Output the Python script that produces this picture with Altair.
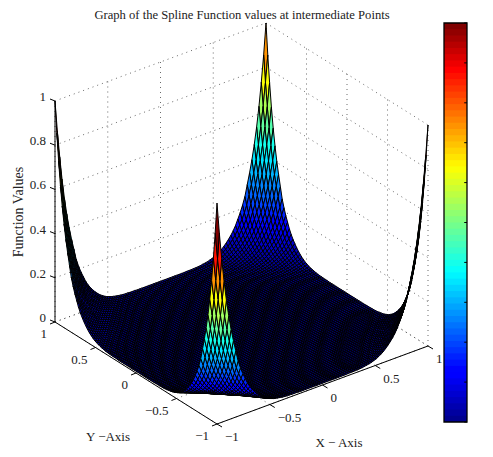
import altair as alt
import numpy as np

TITLE = "Graph of the Spline Function values at intermediate Points"
FONT = "Liberation Serif"
# Surface height along an edge, from a corner (index 0) to mid-edge (index 45)
EDGE_PROFILE = [1.0, 0.86, 0.74, 0.635, 0.545, 0.47, 0.405, 0.35, 0.30, 0.25, 0.215, 0.185, 0.16, 0.135,
                0.115, 0.098, 0.084, 0.071, 0.06, 0.05, 0.042, 0.035, 0.029, 0.025, 0.021, 0.018, 0.016,
                0.014, 0.012, 0.011, 0.010, 0.010, 0.009, 0.009, 0.009, 0.008, 0.008, 0.008, 0.008, 0.008,
                0.008, 0.008, 0.008, 0.008, 0.008, 0.008]
XY_TICKS = [-1, -0.5, 0, 0.5, 1]
XY_LABELS = ["\u22121", "\u22120.5", "0", "0.5", "1"]
Z_TICKS = [0, 0.2, 0.4, 0.6, 0.8, 1]
Z_LABELS = ["0", "0.2", "0.4", "0.6", "0.8", "1"]
CB_TICKS = [0, 0.1, 0.2, 0.3, 0.4, 0.5, 0.6, 0.7, 0.8, 0.9, 1]
JET_POS = [0, 0.11, 0.125, 0.375, 0.64, 0.89, 1]
JET_R = [0, 0, 0, 0, 1, 1, 0.5]
JET_G = [0, 0, 0, 1, 1, 0, 0]
JET_B = [0.5625, 1, 1, 1, 0, 0, 0]

levels = np.linspace(0, 1, 64)
jet = ["#%02x%02x%02x" % tuple(int(round(255 * np.interp(l, JET_POS, c))) for c in (JET_R, JET_G, JET_B)) for l in levels]

def proj(x, y, z):
    s, t = (x + 1) / 2, (y + 1) / 2
    return [217 - 8 + 211 * s - 162 * t, 424 - 8 - 78 * s - 102 * t - 221 * z]

profile = np.array(EDGE_PROFILE + EDGE_PROFILE[-2::-1])
axis_vals = np.linspace(-1, 1, len(profile))
n = len(profile)

cells = []
for i in range(n - 2, -1, -1):
    for j in range(n - 2, -1, -1):
        corners = [(i, j), (i + 1, j), (i + 1, j + 1), (i, j + 1), (i, j)]
        ring = [proj(axis_vals[a], axis_vals[b], profile[a] * profile[b]) for a, b in corners]
        cells.append({"type": "Feature",
                      "geometry": {"type": "Polygon", "coordinates": [[[round(float(p[0]), 2), round(float(p[1]), 2)] for p in ring]]},
                      "properties": {"z": round(float(profile[i] * profile[j]), 4)}})

def line(pts):
    return {"type": "Feature", "properties": {}, "geometry": {"type": "LineString", "coordinates": pts}}

grid = []
for v in XY_TICKS:
    grid += [line([proj(v, 1, 0), proj(v, 1, 1)]), line([proj(1, v, 0), proj(1, v, 1)]),
             line([proj(v, -1, 0), proj(v, 1, 0)]), line([proj(-1, v, 0), proj(1, v, 0)])]
for v in Z_TICKS:
    grid += [line([proj(-1, 1, v), proj(1, 1, v)]), line([proj(1, 1, v), proj(1, -1, v)])]

def moved(p, dx, dy):
    return [p[0] + dx, p[1] + dy]

axes = [line([proj(-1, 1, 0), proj(-1, -1, 0)]), line([proj(-1, -1, 0), proj(1, -1, 0)]),
        line([proj(-1, 1, 0), proj(-1, 1, 1)])]
for v in XY_TICKS:
    p = proj(v, -1, 0); axes.append(line([p, moved(p, 5, 3)]))
    p = proj(-1, v, 0); axes.append(line([p, moved(p, -5, 2)]))
for v in Z_TICKS:
    p = proj(-1, 1, v); axes.append(line([p, moved(p, -5, -2)]))

labels = []
for v, l in zip(XY_TICKS, XY_LABELS):
    p = proj(v, -1, 0)
    labels.append({"lon": p[0] + 8, "lat": p[1] + 13, "t": l, "a": "left"})
    p = proj(-1, v, 0)
    labels.append({"lon": p[0] - 8, "lat": p[1] + 12, "t": l, "a": "right"})
for v, l in zip(Z_TICKS, Z_LABELS):
    p = proj(-1, 1, v)
    labels.append({"lon": p[0] - 9, "lat": p[1] - 4, "t": l, "a": "right"})

PROJ = dict(type="identity", scale=1, translate=[0, 0])

grid_layer = alt.Chart(alt.Data(values=grid)).mark_geoshape(
    filled=False, stroke="#444444", strokeWidth=0.8, strokeDash=[1, 4]).project(**PROJ)
surface = alt.Chart(alt.Data(values=cells)).mark_geoshape(stroke="black", strokeWidth=1.0).encode(
    color=alt.Color("properties.z:Q", scale=alt.Scale(type="quantize", domain=[0, 1], range=jet), legend=None)
).project(**PROJ)
axes_layer = alt.Chart(alt.Data(values=axes)).mark_geoshape(
    filled=False, stroke="black", strokeWidth=1).project(**PROJ)

def text_layer(rows, align, size=13, angle=0):
    return alt.Chart(alt.Data(values=rows)).mark_text(
        font=FONT, fontSize=size, align=align, baseline="middle", color="#222222", angle=angle
    ).encode(longitude="lon:Q", latitude="lat:Q", text="t:N").project(**PROJ)

tl = text_layer([r for r in labels if r["a"] == "left"], "left")
tr = text_layer([r for r in labels if r["a"] == "right"], "right")
names = [{"lon": 108 - 8, "lat": 437 - 8, "t": "Y \u2212Axis"},
         {"lon": 339 - 8, "lat": 443 - 8, "t": "X \u2212 Axis"}]
tn = text_layer(names, "center")
tz = text_layer([{"lon": 19 - 8, "lat": 212 - 8, "t": "Function Values"}], "center", size=14, angle=270)
tt = text_layer([{"lon": 242 - 8, "lat": 7, "t": TITLE}], "center", size=12.6)

X_RANGE = [444 - 8, 467 - 8]
Y_RANGE = [422 - 8, 23 - 8]
cb_rows = [{"lo": i / 64, "hi": min(1, (i + 1.4) / 64), "z": (i + 0.5) / 64, "a": 0, "b": 1} for i in range(64)]
xs = alt.Scale(domain=[0, 1], range=X_RANGE)
ys = alt.Scale(domain=[0, 1], range=Y_RANGE)
cb = alt.Chart(alt.Data(values=cb_rows)).mark_rect().encode(
    x=alt.X("a:Q", scale=xs, axis=None), x2="b:Q",
    y=alt.Y("lo:Q", scale=ys, axis=None), y2="hi:Q",
    color=alt.Color("z:Q", scale=alt.Scale(type="quantize", domain=[0, 1], range=jet), legend=None))
cb_ticks = alt.Chart(alt.Data(values=[{"v": v, "a": 0.88, "b": 1} for v in CB_TICKS])).mark_rule(
    color="black", strokeWidth=1).encode(x=alt.X("a:Q", scale=xs, axis=None), x2="b:Q",
                                         y=alt.Y("v:Q", scale=ys, axis=alt.Axis(
                                             orient="right", values=CB_TICKS, ticks=False, domain=False, grid=False,
                                             title=None, labelFont=FONT, labelFontSize=12, labelColor="#222222",
                                             labelPadding=3, labelOverlap=False, labelFlush=False)))
cb_box = alt.Chart(alt.Data(values=[{"a": 0, "b": 1, "lo": 0, "hi": 1}])).mark_rect(
    fill=None, stroke="black", strokeWidth=1.3).encode(
    x=alt.X("a:Q", scale=xs, axis=None), x2="b:Q", y=alt.Y("lo:Q", scale=ys, axis=None), y2="hi:Q")

chart = alt.layer(grid_layer, surface, axes_layer, tl, tr, tn, tz, tt, cb, cb_ticks, cb_box).properties(
    width=459, height=441, autosize="none",
    padding={"left": 0, "top": 0, "right": 18, "bottom": 0}
).configure_view(stroke=None)

chart.save("out.html", embed_options={"renderer": "svg", "actions": False})
